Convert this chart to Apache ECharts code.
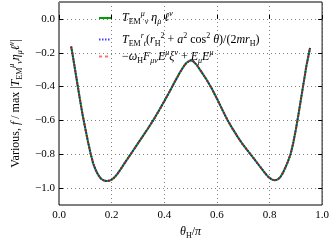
<!DOCTYPE html>
<html><head><meta charset="utf-8">
<script src="https://cdn.jsdelivr.net/npm/echarts@6/dist/echarts.min.js"></script>
<style>html,body{margin:0;padding:0;background:#fff}#c{width:332px;height:245px}</style>
</head><body><div id="c"></div>
<script>
// theta_H / pi
const theta = [0.046,0.05,0.06,0.07,0.08,0.09,0.10,0.11,0.12,0.13,0.14,0.15,0.16,0.17,0.18,0.19,0.20,0.21,0.22,0.23,0.24,0.25,0.26,0.27,0.28,0.30,0.32,0.34,0.36,0.38,0.40,0.42,0.44,0.46,0.475,0.485,0.49,0.50,0.51,0.515,0.525,0.54,0.56,0.58,0.60,0.62,0.64,0.66,0.68,0.70,0.72,0.74,0.76,0.78,0.79,0.80,0.81,0.82,0.83,0.84,0.85,0.86,0.87,0.88,0.89,0.90,0.91,0.92,0.93,0.94,0.954];
// T_EM^mu_nu eta_mu l^nu / max
const valuesA = [-0.163,-0.195,-0.29,-0.385,-0.48,-0.57,-0.648,-0.725,-0.795,-0.855,-0.895,-0.925,-0.945,-0.955,-0.958,-0.957,-0.95,-0.938,-0.92,-0.898,-0.875,-0.851,-0.828,-0.805,-0.782,-0.736,-0.69,-0.643,-0.594,-0.542,-0.487,-0.43,-0.372,-0.315,-0.278,-0.258,-0.251,-0.245,-0.25,-0.257,-0.275,-0.31,-0.357,-0.41,-0.47,-0.535,-0.597,-0.65,-0.70,-0.745,-0.785,-0.824,-0.865,-0.905,-0.925,-0.94,-0.95,-0.954,-0.95,-0.937,-0.913,-0.88,-0.843,-0.80,-0.735,-0.655,-0.565,-0.47,-0.375,-0.28,-0.172];
const valuesB = valuesA.slice();
const valuesC = valuesA.slice();
const xTicks = [0.0,0.2,0.4,0.6,0.8,1.0];
const yTicks = [-1.0,-0.8,-0.6,-0.4,-0.2,0.0];

const FF = 'Liberation Serif';
const rich = {
  i:{fontFamily:FF,fontStyle:'italic',fontSize:12,lineHeight:16,color:'#000'},
  n:{fontFamily:FF,fontSize:12,lineHeight:16,color:'#000'},
  sb:{fontFamily:FF,fontSize:8,lineHeight:9,verticalAlign:'bottom',color:'#000'},
  sp:{fontFamily:FF,fontSize:8,lineHeight:9,verticalAlign:'top',color:'#000'},
  si:{fontFamily:FF,fontStyle:'italic',fontSize:8,lineHeight:9,verticalAlign:'bottom',color:'#000'},
  pi:{fontFamily:FF,fontStyle:'italic',fontSize:8,lineHeight:9,verticalAlign:'top',color:'#000'}
};
const legendText = [
  '{i|T}{sb|EM}{pi|μ}{si|ν}{i| η}{si|μ}{i| ℓ}{pi|ν}',
  '{i|T}{sb|EM}{pi|r}{si|t}{n|(}{i|r}{sb|H}{sp|2}{n| + }{i|a}{sp|2}{n| cos}{sp|2}{n| }{i|θ}{n|)/(2}{i|mr}{sb|H}{n|)}',
  '{n|−}{i|ω}{sb|H}{i|F}{si|μν}{i|E}{pi|μ}{i|ξ}{pi|ν}{n| + }{i|E}{si|μ}{i|E}{pi|μ}'
];
const colA = '#00a000', colB = 'rgba(0,0,255,0.75)', colC = 'rgba(255,0,0,0.55)';
function fmt(v){ const s=(Math.abs(v)<1e-9?0:v).toFixed(1); return s.replace('-','−'); }
function pairs(ys){ return theta.map((t,k)=>[t,ys[k]]); }

const chart = echarts.init(document.getElementById('c'),null,{renderer:'canvas'});
const gridLine = {show:true,lineStyle:{color:'#808080',type:[1,3],width:1}};
const legRows = [{y:18,c:colA,d:null},{y:39.5,c:colB,d:[1.5,1.5]},{y:56.5,c:colC,d:[3,3]}];
const graphics = [];
legRows.forEach((r,k)=>{
  graphics.push({type:'line',shape:{x1:99,y1:r.y,x2:111,y2:r.y},style:{stroke:r.c,lineWidth:2,lineDash:r.d},z:10});
  graphics.push({type:'text',x:122,y:r.y,style:{text:legendText[k],rich:rich,verticalAlign:'middle',align:'left'},z:10});
});
chart.setOption({
  animation:false,
  grid:{left:44,right:8,top:2,bottom:28,show:true,borderColor:'#000',borderWidth:1,backgroundColor:'transparent'},
  graphic:graphics,
  xAxis:[{
    type:'value',min:0,max:1,interval:0.2,
    name:'{i|θ}{sb|H}{n|/}{i|π}',nameLocation:'middle',nameGap:19,
    nameTextStyle:{rich:rich},
    axisLine:{show:false},axisTick:{show:true,inside:true,length:4,lineStyle:{color:'#000'}},
    axisLabel:{margin:5,fontFamily:FF,fontSize:11,color:'#000',formatter:fmt},
    splitLine:gridLine
  }],
  yAxis:[{
    type:'value',min:-1.1,max:0.1,
    name:'{n|Various, }{i|f}{n| / max |}{i|T}{sb|EM}{pi|μ}{si|ν}{i|η}{si|μ}{i|ℓ}{pi|ν}{n||}',
    nameLocation:'middle',nameGap:35,nameRotate:90,nameTextStyle:{rich:rich},
    axisLine:{show:false},
    axisTick:{show:true,inside:true,length:4,customValues:yTicks,lineStyle:{color:'#000'}},
    axisLabel:{margin:4,fontFamily:FF,fontSize:11,color:'#000',formatter:fmt,customValues:yTicks},
    splitLine:gridLine
  },{
    type:'value',min:-1.1,max:0.1,position:'right',
    axisLine:{show:false},
    axisTick:{show:true,inside:true,length:4,customValues:yTicks,lineStyle:{color:'#000'}},
    axisLabel:{show:false,customValues:yTicks},splitLine:{show:false}
  }],
  series:[
    {name:'A',type:'line',data:pairs(valuesA),showSymbol:false,symbol:'none',
     lineStyle:{color:colA,width:2,type:'solid'}},
    {name:'B',type:'line',data:pairs(valuesB),showSymbol:false,symbol:'none',
     lineStyle:{color:colB,width:2,type:[1.5,1.5]}},
    {name:'C',type:'line',data:pairs(valuesC),showSymbol:false,symbol:'none',
     lineStyle:{color:colC,width:2,type:[3,3]}}
  ]
});
</script></body></html>
